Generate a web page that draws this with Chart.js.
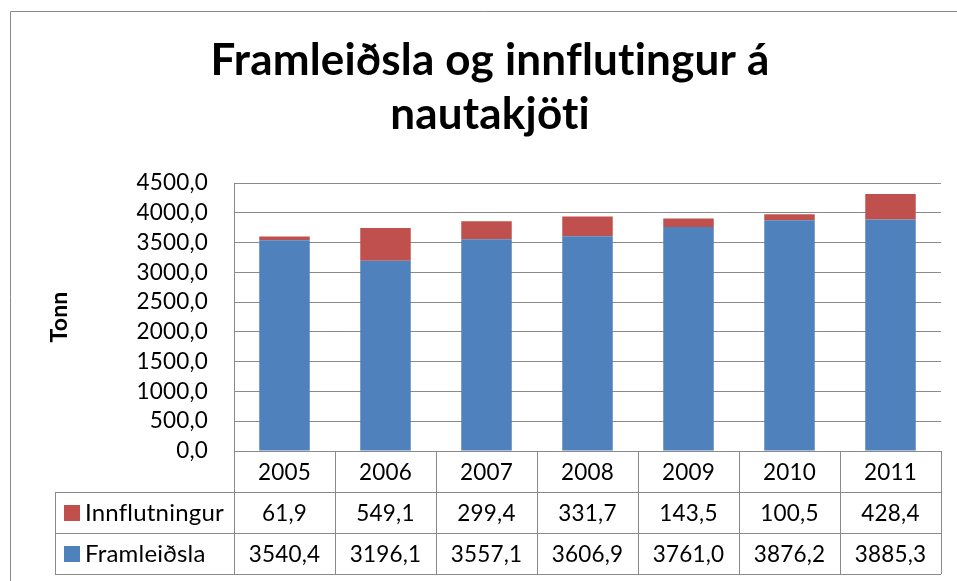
<!DOCTYPE html>
<html>
<head>
<meta charset="utf-8">
<script src="https://cdn.jsdelivr.net/npm/chart.js@4.4.1/dist/chart.umd.min.js"></script>
<style>
  html, body { margin: 0; padding: 0; background: #fff; }
  canvas { font-variant-ligatures: none; }
</style>
</head>
<body>
<canvas id="chart" width="957" height="581"></canvas>
<script>
const years = ["2005", "2006", "2007", "2008", "2009", "2010", "2011"];
const framleidsla = [3540.4, 3196.1, 3557.1, 3606.9, 3761.0, 3876.2, 3885.3];
const innflutningur = [61.9, 549.1, 299.4, 331.7, 143.5, 100.5, 428.4];

const BLUE = "#4f81bd";
const RED = "#c0504d";
const LINE = "#8a8a8a";
const FONT = "Lato, Carlito, 'Noto Sans', sans-serif";

const fmt = v => v.toFixed(1).replace(".", ",");

// rows of the data table under the plot (top row first)
const tableRows = [
  { label: "Innflutningur", color: RED, values: innflutningur },
  { label: "Framleiðsla", color: BLUE, values: framleidsla }
];

const tablePlugin = {
  id: "dataTable",
  beforeDraw(chart) {
    // tiny letter spacing switches off Lato's "ti" ligature
    chart.ctx.letterSpacing = "0.2px";
  },
  afterDraw(chart) {
    const ctx = chart.ctx;
    const xs = chart.scales.x;
    const area = chart.chartArea;
    const colW = xs.width / years.length;
    const rowH = 41;
    const top = area.bottom;
    const legendLeft = 55;
    const px = v => Math.round(v) + 0.5;

    ctx.save();
    ctx.strokeStyle = LINE;
    ctx.lineWidth = 1;

    // outer frame (top and left edge visible)
    ctx.beginPath();
    ctx.moveTo(px(10), 581);
    ctx.lineTo(px(10), px(11));
    ctx.lineTo(957, px(11));
    ctx.stroke();

    ctx.beginPath();
    ctx.moveTo(area.left, px(top));
    ctx.lineTo(area.right, px(top));
    for (let r = 1; r <= 3; r++) {
      ctx.moveTo(legendLeft, px(top + r * rowH));
      ctx.lineTo(area.right, px(top + r * rowH));
    }
    for (let i = 0; i <= years.length; i++) {
      const xx = px(area.left + i * colW);
      ctx.moveTo(xx, top);
      ctx.lineTo(xx, top + 3 * rowH);
    }
    ctx.moveTo(px(legendLeft), top + rowH);
    ctx.lineTo(px(legendLeft), top + 3 * rowH);
    ctx.stroke();

    ctx.fillStyle = "#000";
    ctx.font = "22.5px " + FONT;
    ctx.textAlign = "center";
    ctx.textBaseline = "middle";
    years.forEach((y, i) => {
      ctx.fillText(y, xs.getPixelForValue(i), top + rowH / 2 + 1);
    });
    tableRows.forEach((row, r) => {
      const cy = top + (r + 1.5) * rowH + 1;
      ctx.font = "22.5px " + FONT;
      ctx.textAlign = "center";
      ctx.fillStyle = "#000";
      row.values.forEach((v, i) => {
        ctx.fillText(fmt(v), xs.getPixelForValue(i), cy);
      });
      ctx.fillStyle = row.color;
      ctx.fillRect(64, Math.round(cy - 9), 16, 16);
      ctx.fillStyle = "#000";
      ctx.textAlign = "left";
      ctx.font = "24px " + FONT;
      ctx.fillText(row.label, 85, cy);
    });
    ctx.restore();
  }
};

new Chart(document.getElementById("chart"), {
  type: "bar",
  data: {
    labels: years,
    datasets: [
      {
        label: "Framleiðsla",
        data: framleidsla,
        backgroundColor: BLUE,
        borderWidth: 0,
        barPercentage: 0.5,
        categoryPercentage: 1
      },
      {
        label: "Innflutningur",
        data: innflutningur,
        backgroundColor: RED,
        borderWidth: 0,
        barPercentage: 0.5,
        categoryPercentage: 1
      }
    ]
  },
  options: {
    responsive: false,
    animation: false,
    layout: { padding: { top: 10, left: 23, right: 0, bottom: 7 } },
    plugins: {
      legend: { display: false },
      tooltip: { enabled: false },
      title: {
        display: true,
        text: ["Framleiðsla og innflutingur á", "nautakjöti"],
        color: "#000",
        font: { family: FONT, size: 44, weight: "bold", lineHeight: 54 / 44 },
        padding: { top: 24, bottom: 41 }
      }
    },
    scales: {
      x: {
        stacked: true,
        grid: { display: false },
        border: { display: false },
        ticks: { display: false },
        afterFit: s => { s.height = 123; }
      },
      y: {
        stacked: true,
        min: 0,
        max: 4500,
        ticks: {
          stepSize: 500,
          autoSkip: false,
          padding: 26,
          color: "#000",
          font: { family: FONT, size: 22.5, lineHeight: 1 },
          callback: v => fmt(v)
        },
        grid: { color: LINE, drawTicks: false },
        border: { color: LINE },
        title: {
          display: true,
          text: "Tonn",
          color: "#000",
          font: { family: FONT, size: 23, weight: "bold", lineHeight: 1.2 },
          padding: { top: 23, bottom: 0 }
        },
        afterFit: s => { s.width = 211; }
      },
      // empty right-hand spacer so the plot ends where the original does
      spacer: {
        position: "right",
        display: true,
        grid: { display: false },
        border: { display: false },
        ticks: { display: false },
        afterFit: s => { s.width = 16; }
      }
    }
  },
  plugins: [tablePlugin]
});
</script>
</body>
</html>
